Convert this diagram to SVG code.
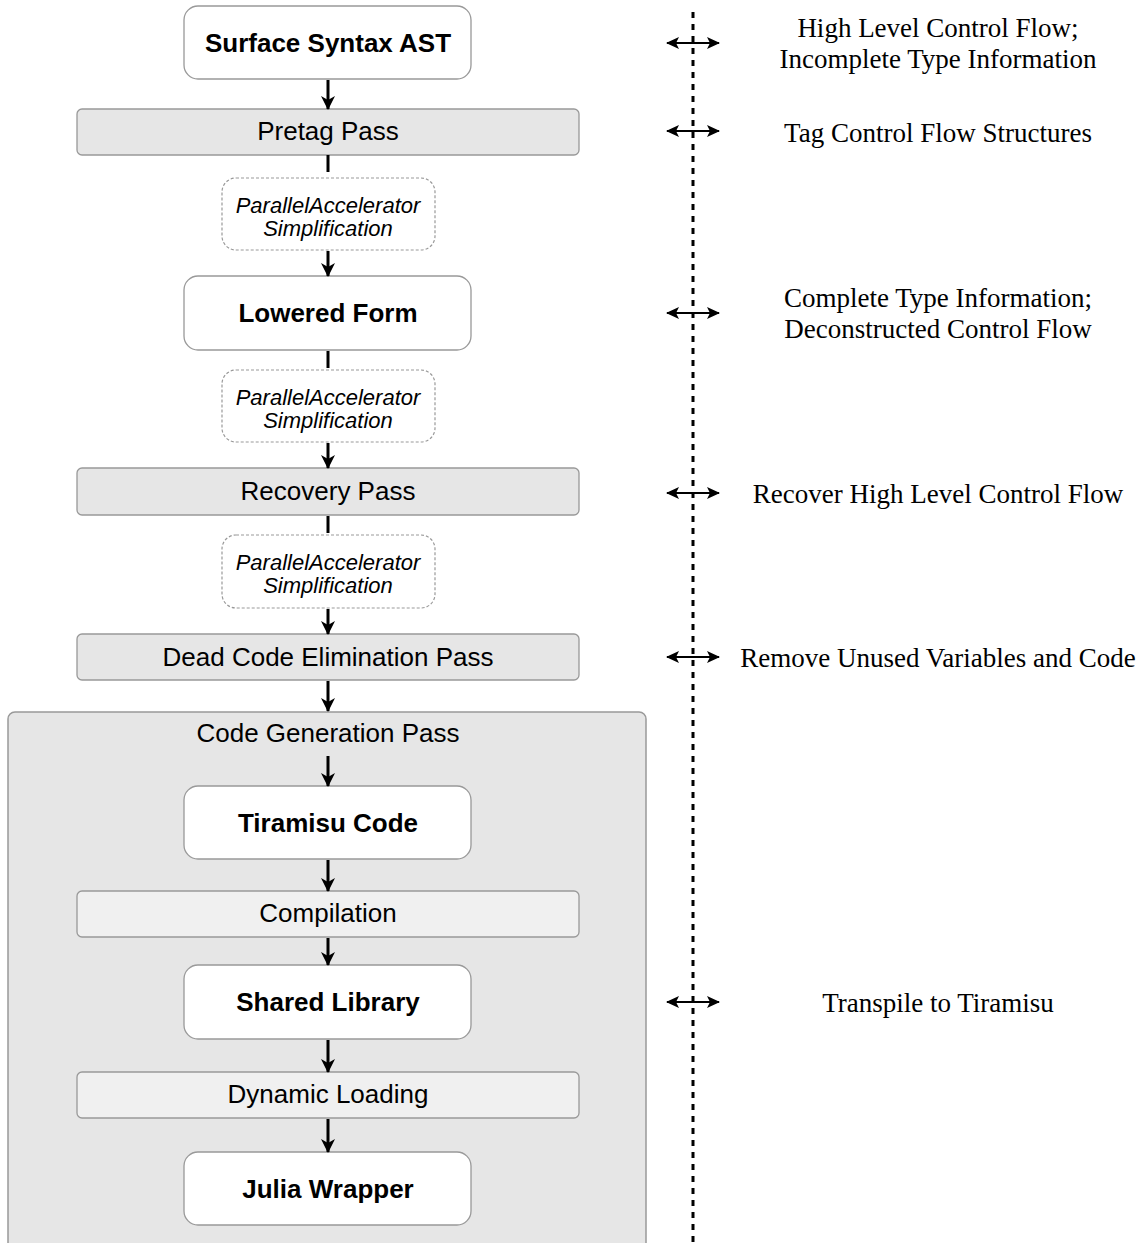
<svg xmlns="http://www.w3.org/2000/svg" width="1145" height="1243" viewBox="0 0 1145 1243">
<defs>
<marker id="ah" markerWidth="14" markerHeight="14" viewBox="0 0 14 14" refX="13" refY="7" orient="auto" markerUnits="userSpaceOnUse">
<path d="M0,0 L14,7 L0,14 L4,7 Z" fill="#000"/>
</marker>
<marker id="dh" markerWidth="13" markerHeight="12" viewBox="0 0 13 12" refX="12" refY="6" orient="auto" markerUnits="userSpaceOnUse">
<path d="M0,0 L13,6 L0,12 L3,6 Z" fill="#000"/>
</marker>
<marker id="dhs" markerWidth="13" markerHeight="12" viewBox="0 0 13 12" refX="1" refY="6" orient="auto" markerUnits="userSpaceOnUse">
<path d="M13,0 L0,6 L13,12 L10,6 Z" fill="#000"/>
</marker>
</defs>
<style>
.state{fill:#fff;stroke:#999;stroke-width:1.3}
.pass{fill:#e6e6e6;stroke:#999;stroke-width:1.3}
.sub{fill:#f0f0f0;stroke:#999;stroke-width:1.3}
.pa{fill:#fff;stroke:#999;stroke-width:1.2;stroke-dasharray:3 2}
.cont{fill:#e6e6e6;stroke:#999;stroke-width:1.5}
.bold{font-family:"Liberation Sans",Arial,sans-serif;font-weight:bold;font-size:26px;text-anchor:middle;fill:#000}
.reg{font-family:"Liberation Sans",Arial,sans-serif;font-size:26px;text-anchor:middle;fill:#000}
.ital{font-family:"Liberation Sans",Arial,sans-serif;font-style:italic;font-size:22px;text-anchor:middle;fill:#000}
.note{font-family:"Liberation Serif","Times New Roman",serif;font-size:27px;text-anchor:middle;fill:#000}
.conn{stroke:#000;stroke-width:3;fill:none}
.arr{marker-end:url(#ah)}
.dbl{stroke:#000;stroke-width:2.2;fill:none;marker-end:url(#dh);marker-start:url(#dhs)}
</style>

<g id="codegen-container">
<rect class="cont" x="8" y="712" width="638" height="545" rx="7"/>
<text class="reg" x="328" y="742">Code Generation Pass</text>
</g>

<g id="surface-ast">
<rect class="state" x="184" y="6" width="287" height="73" rx="14"/>
<text class="bold" x="328" y="52">Surface Syntax AST</text>
</g>
<g id="pretag">
<rect class="pass" x="77" y="109" width="502" height="46" rx="5"/>
<text class="reg" x="328" y="140">Pretag Pass</text>
</g>
<g id="pa1">
<rect class="pa" x="222" y="178" width="213" height="72" rx="14"/>
<text class="ital" x="328" y="213">ParallelAccelerator</text>
<text class="ital" x="328" y="236">Simplification</text>
</g>
<g id="lowered">
<rect class="state" x="184" y="276" width="287" height="74" rx="14"/>
<text class="bold" x="328" y="322">Lowered Form</text>
</g>
<g id="pa2">
<rect class="pa" x="222" y="370" width="213" height="72" rx="14"/>
<text class="ital" x="328" y="405">ParallelAccelerator</text>
<text class="ital" x="328" y="428">Simplification</text>
</g>
<g id="recovery">
<rect class="pass" x="77" y="468" width="502" height="47" rx="5"/>
<text class="reg" x="328" y="500">Recovery Pass</text>
</g>
<g id="pa3">
<rect class="pa" x="222" y="535" width="213" height="73" rx="14"/>
<text class="ital" x="328" y="570">ParallelAccelerator</text>
<text class="ital" x="328" y="593">Simplification</text>
</g>
<g id="dce">
<rect class="pass" x="77" y="634" width="502" height="46" rx="5"/>
<text class="reg" x="328" y="666">Dead Code Elimination Pass</text>
</g>
<g id="tiramisu">
<rect class="state" x="184" y="786" width="287" height="73" rx="14"/>
<text class="bold" x="328" y="832">Tiramisu Code</text>
</g>
<g id="compilation">
<rect class="sub" x="77" y="891" width="502" height="46" rx="5"/>
<text class="reg" x="328" y="922">Compilation</text>
</g>
<g id="shared">
<rect class="state" x="184" y="965" width="287" height="74" rx="14"/>
<text class="bold" x="328" y="1011">Shared Library</text>
</g>
<g id="dynload">
<rect class="sub" x="77" y="1072" width="502" height="46" rx="5"/>
<text class="reg" x="328" y="1103">Dynamic Loading</text>
</g>
<g id="julia">
<rect class="state" x="184" y="1152" width="287" height="73" rx="14"/>
<text class="bold" x="328" y="1198">Julia Wrapper</text>
</g>

<g id="connectors">
<line class="conn arr" x1="328" y1="80" x2="328" y2="109"/>
<line class="conn" x1="328" y1="155" x2="328" y2="172"/>
<line class="conn arr" x1="328" y1="251" x2="328" y2="276"/>
<line class="conn" x1="328" y1="351" x2="328" y2="368"/>
<line class="conn arr" x1="328" y1="443" x2="328" y2="468"/>
<line class="conn" x1="328" y1="516" x2="328" y2="533"/>
<line class="conn arr" x1="328" y1="609" x2="328" y2="634"/>
<line class="conn arr" x1="328" y1="681" x2="328" y2="711"/>
<line class="conn arr" x1="328" y1="756" x2="328" y2="786"/>
<line class="conn arr" x1="328" y1="860" x2="328" y2="891"/>
<line class="conn arr" x1="328" y1="938" x2="328" y2="965"/>
<line class="conn arr" x1="328" y1="1040" x2="328" y2="1072"/>
<line class="conn arr" x1="328" y1="1119" x2="328" y2="1152"/>
<line x1="693" y1="12" x2="693" y2="1243" stroke="#000" stroke-width="3" stroke-dasharray="6 6"/>
<line class="dbl" x1="667" y1="43" x2="719" y2="43"/>
<line class="dbl" x1="667" y1="131" x2="719" y2="131"/>
<line class="dbl" x1="667" y1="313" x2="719" y2="313"/>
<line class="dbl" x1="667" y1="493" x2="719" y2="493"/>
<line class="dbl" x1="667" y1="657" x2="719" y2="657"/>
<line class="dbl" x1="667" y1="1002" x2="719" y2="1002"/>
</g>

<g id="notes">
<text class="note" x="938" y="37">High Level Control Flow;</text>
<text class="note" x="938" y="68">Incomplete Type Information</text>
<text class="note" x="938" y="142">Tag Control Flow Structures</text>
<text class="note" x="938" y="307">Complete Type Information;</text>
<text class="note" x="938" y="338">Deconstructed Control Flow</text>
<text class="note" x="938" y="503">Recover High Level Control Flow</text>
<text class="note" x="938" y="667">Remove Unused Variables and Code</text>
<text class="note" x="938" y="1012">Transpile to Tiramisu</text>
</g>
</svg>
